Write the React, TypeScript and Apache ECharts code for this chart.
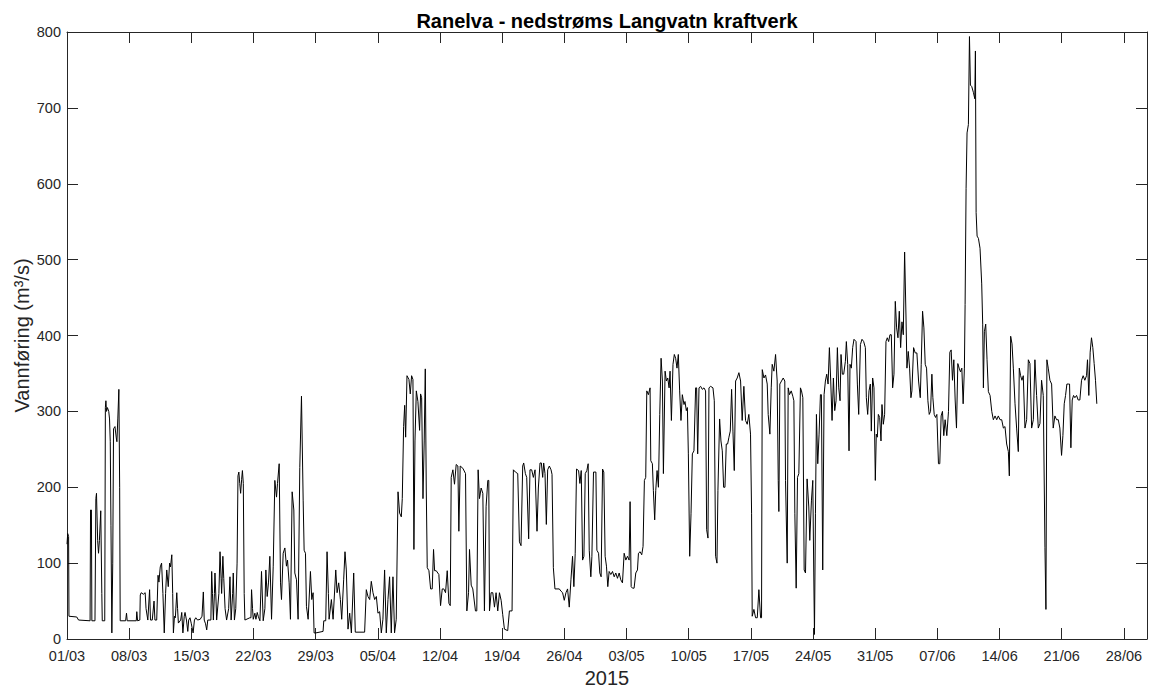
import React, { useEffect, useRef } from "react";
import * as echarts from "echarts";

const chartTitle = "Ranelva - nedstrøms Langvatn kraftverk";
const yAxisTitle = "Vannføring (m³/s)";
const xAxisTitle = "2015";
const xTickLabels = ["01/03", "08/03", "15/03", "22/03", "29/03", "05/04", "12/04", "19/04", "26/04", "03/05", "10/05", "17/05", "24/05", "31/05", "07/06", "14/06", "21/06", "28/06"];
const xDaysMax = 121.6;
const yMax = 800;

// [days since 01/03/2015 00:00, discharge m³/s]
const flowMarch: [number, number][] = [
  [0, 125], [0.08, 139], [0.18, 135], [0.22, 30], [1.1, 29], [1.3, 25], [2.6, 24], [2.65, 170], [2.75, 170], [2.8, 24],
  [3.15, 24], [3.25, 185], [3.32, 192], [3.45, 130], [3.55, 113], [3.65, 130], [3.8, 169], [3.92, 60], [3.97, 24], [4.25, 24],
  [4.32, 305], [4.38, 314], [4.45, 300], [4.55, 305], [4.7, 300], [4.79, 290], [4.87, 260], [4.95, 150], [5.05, 8], [5.15, 100],
  [5.24, 277], [5.4, 280], [5.55, 265], [5.62, 260], [5.72, 290], [5.84, 329], [5.93, 200], [5.99, 24], [6.6, 24], [6.7, 34],
  [6.78, 24], [7.8, 24], [7.86, 36], [7.95, 24], [8.2, 25], [8.25, 58], [8.35, 61], [8.6, 59], [8.8, 61], [8.9, 40],
  [9.1, 25], [9.3, 65], [9.4, 25], [9.6, 25], [9.8, 50], [9.9, 25], [10.1, 25], [10.25, 84], [10.35, 75], [10.5, 95],
  [10.65, 100], [10.8, 60], [10.95, 8], [11.1, 60], [11.23, 91], [11.4, 69], [11.55, 100], [11.65, 95], [11.8, 111], [11.9, 60],
  [11.98, 8], [12.1, 30], [12.2, 28], [12.36, 61], [12.45, 40], [12.54, 21], [12.8, 25], [12.92, 35], [13.05, 8], [13.2, 30],
  [13.29, 35], [13.45, 25], [13.6, 10], [13.7, 25], [13.85, 28], [14.0, 20], [14.2, 8], [14.35, 25], [14.5, 28], [14.7, 25],
  [15.0, 26], [15.2, 30], [15.35, 62], [15.45, 25], [15.6, 20], [15.73, 12], [15.85, 25], [16.2, 25], [16.29, 89], [16.38, 60],
  [16.48, 25], [16.6, 60], [16.66, 87], [16.78, 50], [16.85, 25], [17.1, 60], [17.23, 115], [17.35, 80], [17.41, 60], [17.55, 109],
  [17.65, 80], [17.8, 40], [17.97, 25], [18.2, 40], [18.35, 82], [18.48, 25], [18.65, 60], [18.72, 87], [18.85, 25], [19.0, 40],
  [19.15, 100], [19.25, 215], [19.35, 220], [19.45, 205], [19.55, 192], [19.66, 210], [19.75, 222], [19.85, 205], [19.95, 60], [20.03, 25],
  [20.59, 28], [20.71, 28], [20.78, 65], [20.89, 40], [20.97, 26], [21.15, 34], [21.27, 26], [21.42, 35], [21.53, 30], [21.72, 24],
  [21.9, 89], [22.09, 24], [22.28, 40], [22.39, 91], [22.54, 56], [22.69, 75], [22.84, 109], [23.03, 26], [23.22, 96], [23.4, 209],
  [23.59, 187], [23.7, 205], [23.89, 231], [24.04, 74], [24.15, 52], [24.34, 113], [24.53, 120], [24.71, 96], [24.83, 104], [25.01, 74],
  [25.16, 26], [25.35, 194], [25.54, 170], [25.65, 87], [25.84, 78], [26.02, 26], [26.21, 226], [26.4, 320], [26.59, 183], [26.7, 117],
  [26.85, 113], [26.96, 43], [27.15, 26], [27.41, 89], [27.56, 52], [27.71, 61], [27.82, 8], [28.01, 8], [28.83, 10], [28.91, 24],
  [29.13, 24], [29.28, 115], [29.43, 60], [29.51, 26], [29.77, 52], [29.96, 26], [30.26, 91], [30.41, 61], [30.59, 74], [30.78, 52],
  [30.93, 26],
];

const flowApril: [number, number][] = [
  [31.15, 78], [31.3, 115], [31.45, 91], [31.64, 13], [31.83, 34], [32.02, 8], [32.28, 87], [32.46, 9], [33.51, 9], [33.7, 65],
  [33.89, 56], [34.08, 52], [34.26, 76], [34.45, 61], [34.64, 52], [34.83, 56], [35.01, 34], [35.2, 36], [35.39, 8], [35.57, 26],
  [35.76, 91], [35.95, 8], [36.14, 52], [36.32, 82], [36.51, 8], [36.7, 82], [36.88, 8], [37.07, 26], [37.27, 194], [37.45, 166],
  [37.64, 161], [37.75, 185], [37.9, 280], [38.02, 308], [38.13, 266], [38.28, 347], [38.5, 342], [38.65, 323], [38.8, 347], [38.95, 342],
  [39.06, 118], [39.18, 261], [39.33, 327], [39.51, 313], [39.7, 275], [39.81, 323], [39.93, 318], [40.08, 185], [40.22, 261], [40.34, 356],
  [40.45, 199], [40.56, 94], [40.75, 90], [40.94, 66], [41.12, 66], [41.27, 118], [41.39, 90], [41.57, 90], [41.87, 85], [42.06, 44],
  [42.25, 66], [42.43, 66], [42.62, 61], [42.81, 90], [43.0, 47], [43.15, 44], [43.26, 213], [43.45, 223], [43.63, 204], [43.82, 230],
  [44.01, 228], [44.12, 142], [44.27, 228], [44.57, 225], [44.87, 218], [45.02, 37], [45.21, 61], [45.32, 118], [45.51, 71], [45.69, 66],
  [45.99, 37], [46.14, 37], [46.29, 223], [46.44, 185], [46.63, 199], [46.82, 192], [47.0, 37], [47.19, 175], [47.38, 209], [47.49, 209],
  [47.57, 37], [47.75, 61], [47.94, 61], [48.13, 42], [48.31, 61], [48.5, 37], [48.69, 61], [48.88, 51], [49.06, 32], [49.25, 13],
  [49.62, 11], [49.81, 37], [50.11, 37], [50.26, 223], [50.49, 220], [50.75, 218], [50.94, 128], [51.12, 123], [51.31, 228], [51.42, 232],
  [51.61, 218], [51.76, 213], [51.98, 132], [52.13, 223], [52.32, 223], [52.51, 213], [52.7, 223], [52.92, 142], [53.07, 199], [53.26, 232],
  [53.41, 232], [53.56, 213], [53.67, 232], [53.82, 218], [53.97, 151], [54.12, 223], [54.31, 228], [54.5, 223], [54.61, 217], [54.76, 94],
  [54.94, 66], [55.43, 66], [55.62, 63], [55.8, 61], [55.99, 51], [56.18, 61], [56.36, 66], [56.55, 42], [56.74, 78], [56.92, 109],
  [57.07, 69], [57.22, 113], [57.37, 224], [57.6, 222], [57.75, 205], [57.9, 222], [58.05, 104], [58.2, 109], [58.35, 218], [58.53, 222],
  [58.68, 231], [58.8, 117], [58.98, 82], [59.1, 109], [59.28, 220], [59.55, 220], [59.66, 117], [59.85, 113], [59.99, 87], [60.14, 82],
  [60.3, 224], [60.44, 220], [60.59, 109], [60.74, 96], [60.89, 69],
];

const flowMay: [number, number][] = [
  [61.04, 89], [61.23, 85], [61.42, 89], [61.61, 82], [61.79, 87], [61.98, 80], [62.17, 87], [62.35, 78], [62.54, 74], [62.73, 113],
  [62.92, 104], [63.1, 109], [63.29, 104], [63.4, 181], [63.52, 69], [63.67, 67], [63.85, 67], [64.04, 87], [64.23, 91], [64.34, 113],
  [64.53, 115], [64.71, 111], [64.86, 122], [65.01, 209], [65.16, 213], [65.28, 327], [65.46, 322], [65.65, 331], [65.73, 235], [65.91, 231],
  [66.02, 196], [66.17, 157], [66.29, 196], [66.44, 222], [66.59, 200], [66.74, 296], [66.89, 370], [67.04, 340], [67.15, 218], [67.34, 353],
  [67.49, 340], [67.64, 344], [67.79, 331], [67.9, 353], [68.05, 288], [68.23, 362], [68.38, 375], [68.53, 370], [68.68, 357], [68.83, 375],
  [68.98, 327], [69.13, 288], [69.28, 322], [69.47, 309], [69.58, 313], [69.73, 301], [69.85, 305], [69.96, 244], [70.11, 109], [70.26, 165],
  [70.41, 244], [70.59, 248], [70.78, 331], [70.89, 331], [71.01, 244], [71.16, 331], [71.34, 333], [71.53, 329], [71.72, 331], [71.9, 327],
  [72.02, 144], [72.17, 133], [72.28, 331], [72.47, 333], [72.73, 331], [72.88, 314], [73.03, 109], [73.18, 100], [73.29, 196], [73.48, 290],
  [73.63, 261], [73.78, 248], [73.93, 200], [74.08, 200], [74.23, 257], [74.38, 257], [74.53, 266], [74.68, 274], [74.83, 329], [74.98, 274],
  [75.13, 222], [75.28, 340], [75.46, 344], [75.65, 351], [75.84, 340], [76.02, 288], [76.21, 333], [76.4, 288], [76.59, 283], [76.77, 296],
  [76.96, 270], [77.08, 165], [77.15, 30], [77.34, 39], [77.53, 28], [77.72, 28], [77.9, 65], [78.09, 28], [78.2, 28], [78.28, 355],
  [78.47, 344], [78.65, 348], [78.84, 336], [78.95, 296], [79.14, 270], [79.29, 331], [79.4, 362], [79.59, 353], [79.78, 375], [79.96, 340],
  [80.08, 209], [80.15, 168], [80.26, 336], [80.45, 340], [80.64, 344], [80.82, 340], [80.9, 209], [81.09, 100], [81.2, 331], [81.35, 322],
  [81.54, 327], [81.72, 320], [81.84, 314], [81.95, 165], [82.1, 67], [82.25, 213], [82.4, 218], [82.58, 331], [82.7, 327], [82.85, 318],
  [83.0, 91], [83.15, 87], [83.33, 211], [83.52, 174], [83.63, 130], [83.82, 183], [83.97, 209], [84.08, 87], [84.16, 6], [84.27, 165],
  [84.38, 296], [84.53, 231], [84.68, 270], [84.83, 322], [84.94, 322], [85.09, 91], [85.24, 322], [85.39, 340], [85.54, 349], [85.69, 336],
  [85.84, 384], [85.99, 340], [86.14, 288], [86.29, 344], [86.44, 301], [86.59, 314], [86.74, 384], [86.89, 331], [87.04, 314], [87.15, 375],
  [87.3, 349], [87.45, 349], [87.64, 366], [87.75, 392], [87.9, 362], [88.05, 248], [88.16, 362], [88.31, 357], [88.46, 384], [88.61, 395],
  [88.84, 392], [88.99, 336], [89.14, 296], [89.33, 388], [89.51, 395], [89.7, 392], [89.89, 384], [90.0, 318], [90.15, 296], [90.3, 327],
  [90.45, 336], [90.56, 274], [90.71, 344], [90.86, 331], [91.01, 209], [91.12, 270], [91.24, 266], [91.35, 296], [91.5, 292], [91.65, 261],
  [91.76, 309], [91.91, 283],
];

const flowJune: [number, number][] = [
  [92.06, 296], [92.21, 392], [92.36, 397], [92.51, 392], [92.66, 401], [92.81, 401], [92.96, 331], [93.11, 349], [93.26, 445], [93.41, 410],
  [93.56, 397], [93.71, 432], [93.86, 384], [94.01, 418], [94.16, 401], [94.31, 510], [94.46, 427], [94.57, 357], [94.72, 379], [94.87, 357],
  [95.02, 318], [95.13, 327], [95.32, 384], [95.5, 377], [95.69, 377], [95.88, 340], [96.07, 318], [96.18, 362], [96.33, 432], [96.48, 410],
  [96.63, 362], [96.78, 357], [96.93, 314], [97.08, 296], [97.23, 300], [97.38, 349], [97.49, 318], [97.64, 296], [97.79, 292], [97.94, 296],
  [98.12, 231], [98.27, 231], [98.42, 294], [98.57, 300], [98.72, 268], [98.87, 289], [99.06, 268], [99.25, 300], [99.4, 378], [99.55, 381],
  [99.7, 341], [99.85, 368], [100.0, 315], [100.15, 278], [100.3, 363], [100.45, 357], [100.6, 352], [100.75, 357], [100.9, 310], [101.04, 357],
  [101.12, 441], [101.23, 594], [101.34, 667], [101.49, 678], [101.61, 794], [101.72, 730], [101.87, 728], [102.06, 720], [102.21, 712], [102.28, 775],
  [102.36, 562], [102.47, 531], [102.62, 528], [102.8, 515], [102.99, 468], [103.1, 415], [103.18, 331], [103.29, 405], [103.44, 415], [103.59, 368],
  [103.74, 326], [103.93, 321], [104.12, 300], [104.3, 289], [104.49, 294], [104.68, 289], [104.86, 294], [105.05, 289], [105.24, 289], [105.43, 278],
  [105.61, 280], [105.8, 257], [105.99, 247], [106.1, 215], [106.25, 399], [106.4, 389], [106.55, 357], [106.74, 310], [106.92, 278], [107.11, 247],
  [107.22, 357], [107.37, 347], [107.52, 341], [107.67, 347], [107.86, 278], [108.05, 289], [108.24, 368], [108.42, 363], [108.61, 278], [108.8, 289],
  [108.98, 368], [109.17, 321], [109.36, 278], [109.55, 284], [109.73, 341], [109.92, 321], [110.11, 121], [110.22, 39], [110.33, 368], [110.48, 357],
  [110.67, 341], [110.86, 336], [111.04, 278], [111.23, 294], [111.42, 289], [111.61, 289], [111.79, 278], [111.98, 242], [112.13, 268], [112.28, 310],
  [112.43, 321], [112.58, 336], [112.73, 336], [112.88, 336], [113.03, 252], [113.18, 315], [113.33, 321], [113.48, 318], [113.67, 321], [113.85, 315],
  [114.04, 315], [114.23, 341], [114.41, 347], [114.6, 341], [114.79, 347], [114.9, 368], [115.05, 321], [115.2, 378], [115.35, 397], [115.5, 384],
  [115.65, 363], [115.8, 341], [115.95, 310],
];

const flowData = [...flowMarch, ...flowApril, ...flowMay, ...flowJune];

const FONT = "'Liberation Sans', Arial, Helvetica, sans-serif";
const AXIS_COLOR = "#262626";

function xLabel(v: number): string {
  const i = Math.round(v / 7);
  if (Math.abs(v - i * 7) > 1e-6) return "";
  return xTickLabels[i] ?? "";
}

export default function App() {
  const ref = useRef<HTMLDivElement>(null);
  useEffect(() => {
    if (!ref.current) return;
    const chart = echarts.init(ref.current, null, { renderer: "svg" });
    const axisLine = { show: true, onZero: false, lineStyle: { color: AXIS_COLOR, width: 1 } };
    const axisTick = { show: true, inside: true, length: 11, lineStyle: { color: AXIS_COLOR, width: 1 } };
    chart.setOption({
      animation: false,
      backgroundColor: "#ffffff",
      title: {
        text: chartTitle,
        left: 602,
        top: 6,
        textAlign: "center",
        textStyle: { fontFamily: FONT, fontSize: 20, fontWeight: "bold", color: "#000000" },
      },
      grid: { left: 67, right: 1, top: 32, bottom: 50, containLabel: false },
      xAxis: [
        {
          type: "value",
          min: 0,
          max: xDaysMax,
          interval: 7,
          position: "bottom",
          axisLine,
          axisTick,
          splitLine: { show: false },
          axisLabel: { show: true, margin: 9, color: AXIS_COLOR, fontSize: 14.5, fontFamily: FONT, formatter: xLabel },
          name: xAxisTitle,
          nameLocation: "middle",
          nameGap: 29,
          nameMoveOverlap: false,
          nameTextStyle: { fontFamily: FONT, fontSize: 20, color: AXIS_COLOR },
        },
        {
          type: "value",
          min: 0,
          max: xDaysMax,
          interval: 7,
          position: "top",
          axisLine,
          axisTick,
          splitLine: { show: false },
          axisLabel: { show: false },
        },
      ],
      yAxis: [
        {
          type: "value",
          min: 0,
          max: yMax,
          interval: 100,
          position: "left",
          axisLine,
          axisTick,
          splitLine: { show: false },
          axisLabel: { show: true, margin: 6, color: AXIS_COLOR, fontSize: 14.5, fontFamily: FONT },
          name: yAxisTitle,
          nameLocation: "middle",
          nameGap: 35,
          nameMoveOverlap: false,
          nameTextStyle: { fontFamily: FONT, fontSize: 20, color: AXIS_COLOR },
        },
        {
          type: "value",
          min: 0,
          max: yMax,
          interval: 100,
          position: "right",
          axisLine,
          axisTick,
          splitLine: { show: false },
          axisLabel: { show: false },
        },
      ],
      series: [
        {
          type: "line",
          xAxisIndex: 0,
          yAxisIndex: 0,
          data: flowData,
          showSymbol: false,
          symbol: "none",
          silent: true,
          lineStyle: { color: "#000000", width: 1 },
        },
      ],
    });
    return () => chart.dispose();
  }, []);
  return (
    <div
      ref={ref}
      style={{ position: "fixed", left: 0, top: 0, width: 1150, height: 693, background: "#ffffff" }}
    />
  );
}
